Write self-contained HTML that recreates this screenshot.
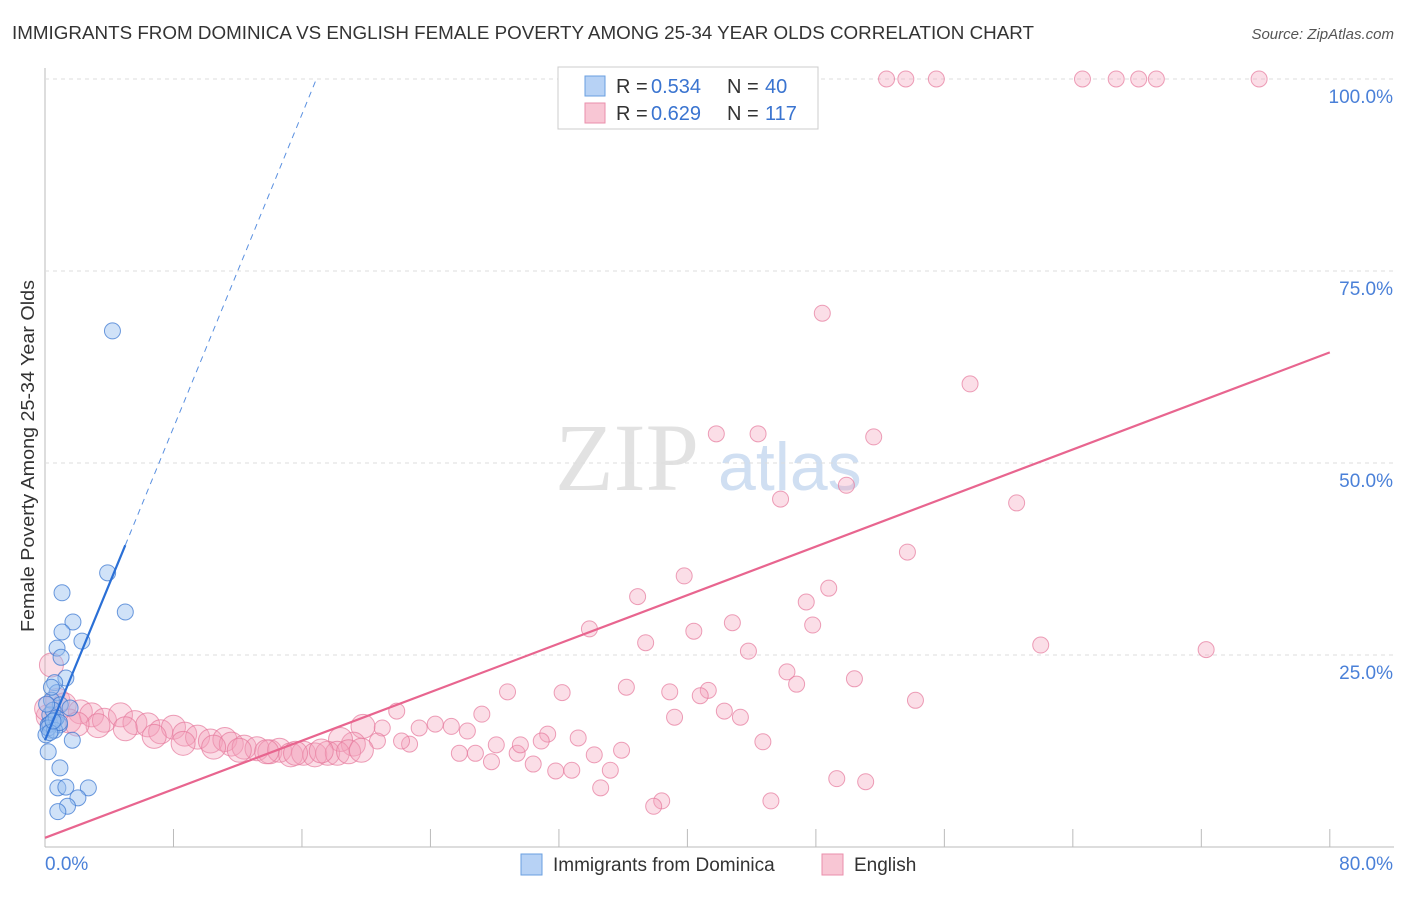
<!DOCTYPE html>
<html><head><meta charset="utf-8"><style>
body{margin:0;background:#fff;font-family:"Liberation Sans",sans-serif;}
</style></head><body>
<svg id="c" width="1406" height="892" xmlns="http://www.w3.org/2000/svg" font-family="Liberation Sans, sans-serif">
<text x="12" y="39" font-size="18" fill="#333" textLength="1022" lengthAdjust="spacingAndGlyphs">IMMIGRANTS FROM DOMINICA VS ENGLISH FEMALE POVERTY AMONG 25-34 YEAR OLDS CORRELATION CHART</text>
<text x="1394" y="39" font-size="15" fill="#555" font-style="italic" text-anchor="end">Source: ZipAtlas.com</text>
<text x="555" y="490" font-size="96" fill="#e2e2e2" font-family="Liberation Serif, serif">ZIP</text>
<text x="718" y="490" font-size="68" fill="#d0dff2">atlas</text>
<g id="grid"></g><g id="marks"></g>
<text transform="translate(34,456) rotate(-90)" font-size="18" fill="#333" text-anchor="middle" textLength="352" lengthAdjust="spacingAndGlyphs">Female Poverty Among 25-34 Year Olds</text>
<g>
<rect x="558" y="67" width="260" height="62" fill="#fff" stroke="#ccc"/>
<rect x="585" y="76" width="20" height="20" fill="#b7d2f5" stroke="#6a9fe0"/>
<rect x="585" y="103" width="20" height="20" fill="#f8c6d4" stroke="#ea8fab"/>
<text x="616" y="93" font-size="20" fill="#333">R =</text><text x="651" y="93" font-size="20" fill="#3a74d0">0.534</text>
<text x="727" y="93" font-size="20" fill="#333">N =</text><text x="765" y="93" font-size="20" fill="#3a74d0">40</text>
<text x="616" y="120" font-size="20" fill="#333">R =</text><text x="651" y="120" font-size="20" fill="#3a74d0">0.629</text>
<text x="727" y="120" font-size="20" fill="#333">N =</text><text x="765" y="120" font-size="20" fill="#3a74d0">117</text>
</g>
<g>
<rect x="521" y="854" width="21" height="21" fill="#b7d2f5" stroke="#6a9fe0"/>
<text x="553" y="871" font-size="19" fill="#333">Immigrants from Dominica</text>
<rect x="822" y="854" width="21" height="21" fill="#f8c6d4" stroke="#ea8fab"/>
<text x="854" y="871" font-size="19" fill="#333">English</text>
</g>
</svg>
<script>
const yTicks=[25,50,75,100];
const xTickLabels=["0.0%","80.0%"];
const blueX=[4.2,3.9,5.0,1.06,1.74,1.06,2.3,0.75,1.0,1.3,0.6,0.75,0.4,0.95,1.56,0.3,0.6,0.2,0.9,0.4,0.06,1.7,0.2,0.93,0.8,1.3,2.7,2.05,1.4,0.8,0.3,0.5,0.7,0.2,0.4,0.1,0.6,0.9,0.3,0.5];
const blueY=[67.2,35.7,30.6,33.1,29.3,28.0,26.8,25.9,24.7,22.0,21.4,20.1,19.1,18.5,18.1,17.2,16.5,15.9,15.9,15.2,14.6,13.9,12.4,10.3,7.7,7.8,7.7,6.4,5.3,4.6,16.0,17.8,16.8,15.5,20.8,18.6,15.2,16.2,14.9,16.4];
const pinkX=[52.4,53.6,55.5,64.6,66.7,68.1,69.2,75.6,48.4,57.6,41.8,44.4,51.6,49.9,45.8,60.5,53.7,39.8,48.8,36.9,47.4,42.8,33.9,40.4,47.8,37.4,62,72.3,43.8,46.2,50.4,46.8,36.2,41.3,38.9,40.8,28.8,32.2,54.2,42.3,43.3,39.2,27.2,21.9,44.7,33.2,31.3,34.2,35.9,35.2,32.8,31.8,34.6,49.3,51.1,38.4,37.9,45.2,25.8,26.8,27.8,28.1,29.4,29.6,30.4,30.9,26.3,25.3,24.3,23.3,22.7,22.2,21.0,20.7,19.8,19.2,18.4,0.4,0.8,1.2,2.2,2.9,3.7,4.7,5.6,6.4,7.2,8.0,8.7,9.5,10.3,11.2,11.6,12.4,13.2,14.0,14.6,15.3,16.1,16.8,17.6,18.2,18.9,19.7,0.2,1.5,3.3,5.0,6.8,8.6,10.5,12.1,13.8,15.6,17.2,0.1,2.0];
const pinkY=[100,100,100,100,100,100,100,100,69.5,60.3,53.8,53.8,53.4,47.1,45.3,44.8,38.4,35.3,33.7,32.6,31.9,29.2,28.4,28.1,28.9,26.6,26.3,25.7,25.5,22.8,21.9,21.2,20.8,20.4,20.2,19.7,20.2,20.1,19.1,17.7,16.9,16.9,17.3,17.7,13.7,14.2,14.7,12.0,12.6,10.0,10.0,9.9,7.7,8.9,8.5,6.0,5.3,6.0,12.2,12.2,11.1,13.3,12.2,13.3,10.8,13.8,15.1,15.7,16.0,15.5,13.4,13.8,15.5,13.8,15.7,13.4,14.0,23.7,19.1,18.5,17.6,17.2,16.5,17.2,16.2,15.9,15.0,15.6,14.7,14.3,13.8,14.0,13.4,13.0,12.8,12.4,12.6,12.0,12.2,12.0,12.2,12.2,12.4,12.6,17.0,16.4,15.8,15.4,14.4,13.5,13.0,12.6,12.4,12.2,12.5,18.0,16.0];
const X=v=>45+v*16.06, Y=v=>847-v*7.68;
const NS="http://www.w3.org/2000/svg";
function mk(t,a,p){const e=document.createElementNS(NS,t);for(const k in a)e.setAttribute(k,a[k]);p.appendChild(e);return e;}
const g=document.getElementById('grid'), m=document.getElementById('marks');
const ax=mk('line',{x1:45,y1:68,x2:45,y2:847,stroke:'#bbb'},g);


const bx=mk('line',{x1:45,y1:847,x2:1394,y2:847,stroke:'#bbb'},g);


yTicks.forEach(t=>{
 const l=mk('line',{x1:45,y1:Y(t),x2:1394,y2:Y(t),stroke:'#ddd','stroke-dasharray':'4 4'},g);
 
 
 const tx=mk('text',{x:1393,y:Y(t)+24,'font-size':19,fill:'#4a80d8','text-anchor':'end'},g);
 tx.textContent=t.toFixed(1)+'%';
 
 
});
for(let i=1;i<=10;i++){
 const l=mk('line',{x1:X(i*8),y1:829,x2:X(i*8),y2:847,stroke:'#bbb'},g);
 
 
}
[[0,'start',45],[80,'end',1393]].forEach((d,i)=>{
 const tx=mk('text',{x:d[2],y:870,'font-size':19,fill:'#4a80d8','text-anchor':d[1]},g);
 tx.textContent=xTickLabels[i];
 
 
});
pinkX.forEach((x,i)=>{
 const big=x<20&&pinkY[i]<25;
 const c=mk('circle',{cx:X(x),cy:Y(pinkY[i]),r:big?12:8,fill:'rgba(244,160,186,0.35)',stroke:'rgba(230,120,155,0.7)'},m);
 
 
});
blueX.forEach((x,i)=>{
 const c=mk('circle',{cx:X(x),cy:Y(blueY[i]),r:8,fill:'rgba(150,190,240,0.45)',stroke:'rgba(60,120,210,0.75)'},m);
 
 
});
const pl=mk('line',{x1:X(0),y1:Y(1.2),x2:X(80),y2:Y(64.4),stroke:'#e8658f','stroke-width':2.2},m);


const bl=mk('line',{x1:X(0),y1:Y(13.9),x2:X(5.0),y2:Y(39.3),stroke:'#2a6fd6','stroke-width':2.2},m);


const bd=mk('line',{x1:X(5.0),y1:Y(39.3),x2:X(16.9),y2:Y(100),stroke:'#5a90e0','stroke-width':1,'stroke-dasharray':'6 5'},m);


</script>
</body></html>
